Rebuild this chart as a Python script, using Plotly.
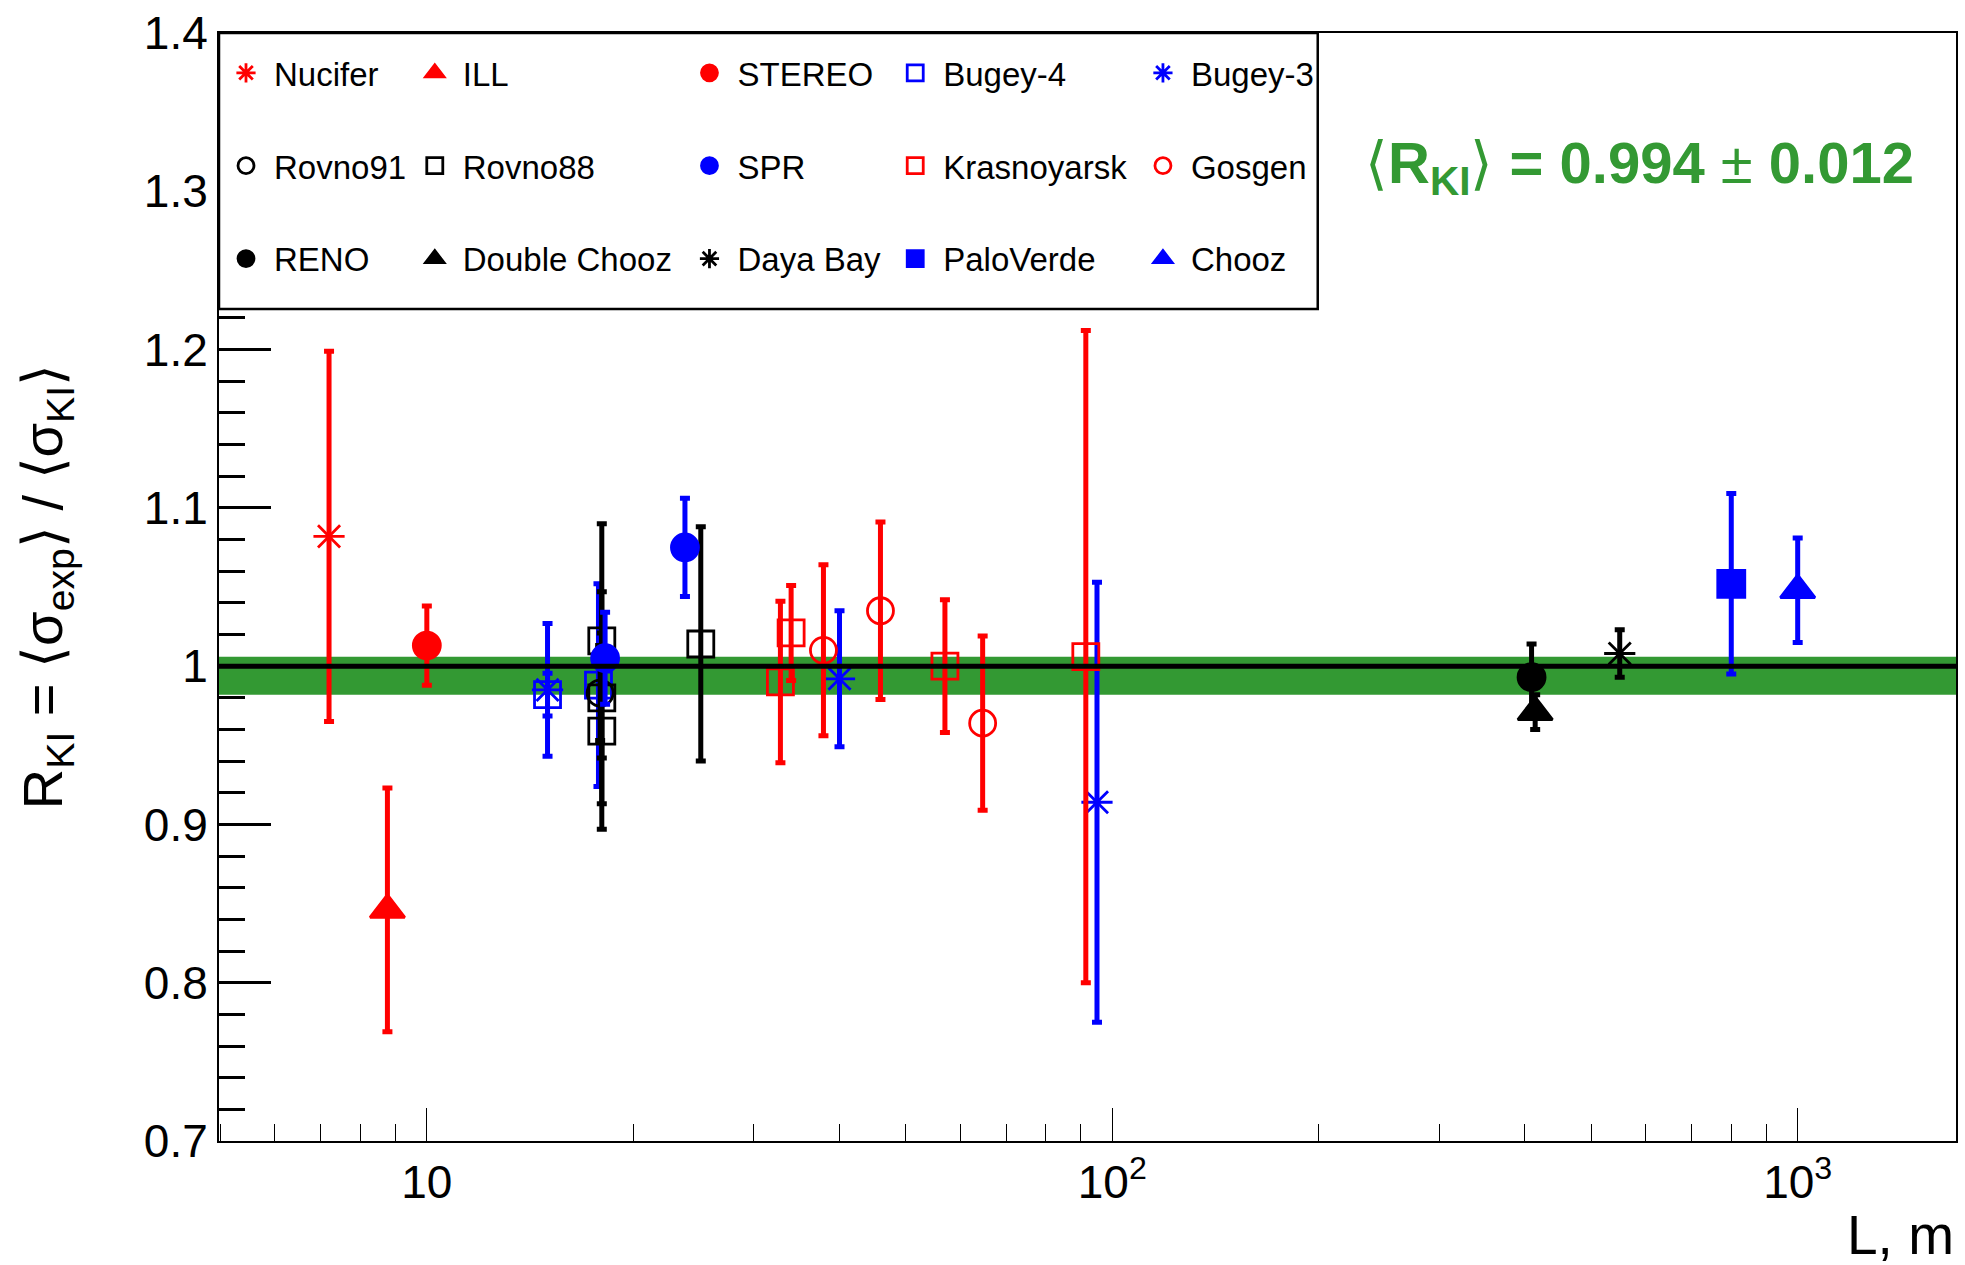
import math
import plotly.graph_objects as go

FONT = "Liberation Sans, Arial, Helvetica, sans-serif"

# ---------------- data ----------------
nucifer_L = [7.2];   nucifer_R = [1.082];  nucifer_E = [0.117]
ill_L = [8.76];      ill_R = [0.846];      ill_E = [0.077]
stereo_L = [10.0];   stereo_R = [1.013];   stereo_E = [0.025]
bugey4_L = [15.0, 17.8];  bugey4_R = [0.982, 0.988];  bugey4_E = [0.0135, 0.064]
bugey3_L = [15.0, 40.0, 95.0];  bugey3_R = [0.985, 0.992, 0.914];  bugey3_E = [0.042, 0.043, 0.139]
rovno91_L = [17.9];  rovno91_R = [0.983];  rovno91_E = [0.030]
rovno88_L = [18.0, 18.0, 18.0, 25.1];  rovno88_R = [1.016, 0.980, 0.959, 1.014];  rovno88_E = [0.074, 0.067, 0.062, 0.074]
spr_L = [18.2, 23.8];  spr_R = [1.005, 1.075];  spr_E = [0.029, 0.031]
krasn_L = [32.8, 34.0, 57.0, 91.5];  krasn_R = [0.990, 1.021, 1.000, 1.006];  krasn_E = [0.051, 0.030, 0.042, 0.206]
gosgen_L = [37.9, 45.9, 64.7];  gosgen_R = [1.010, 1.035, 0.964];  gosgen_E = [0.054, 0.056, 0.055]
reno_L = [409.0];    reno_R = [0.993];     reno_E = [0.021]
dchooz_L = [414.0];  dchooz_R = [0.971];   dchooz_E = [0.011]
dayabay_L = [550.0]; dayabay_R = [1.008];  dayabay_E = [0.015]
paloverde_L = [800.0]; paloverde_R = [1.052]; paloverde_E = [0.057]
chooz_L = [1000.0];  chooz_R = [1.048];    chooz_E = [0.033]

R_avg = 0.994
R_avg_err = 0.012
unity = 1.0

y_tick_vals = [0.7, 0.8, 0.9, 1.0, 1.1, 1.2, 1.3, 1.4]
y_tick_text = ["0.7", "0.8", "0.9", "1", "1.1", "1.2", "1.3", "1.4"]
x_tick_vals = [10, 100, 1000]
x_tick_text = ["10", "10<sup>2</sup>", "10<sup>3</sup>"]
x_range = [4.975, 1702.0]
y_range = [0.7, 1.4]

RED = "#ff0000"
BLUE = "#0000ff"
BLACK = "#000000"
GREEN = "#339933"

# name, L, R, E, color, symbol, size, legend id (rows of the legend, left to right)
series = [
    ("Nucifer", nucifer_L, nucifer_R, nucifer_E, RED, "asterisk-open", 26, "legend"),
    ("ILL", ill_L, ill_R, ill_E, RED, "triangle-up", 30, "legend2"),
    ("STEREO", stereo_L, stereo_R, stereo_E, RED, "circle", 27, "legend3"),
    ("Bugey-4", bugey4_L, bugey4_R, bugey4_E, BLUE, "square-open", 26, "legend4"),
    ("Bugey-3", bugey3_L, bugey3_R, bugey3_E, BLUE, "asterisk-open", 26, "legend5"),
    ("Rovno91", rovno91_L, rovno91_R, rovno91_E, BLACK, "circle-open", 26, "legend"),
    ("Rovno88", rovno88_L, rovno88_R, rovno88_E, BLACK, "square-open", 26, "legend2"),
    ("SPR", spr_L, spr_R, spr_E, BLUE, "circle", 27, "legend3"),
    ("Krasnoyarsk", krasn_L, krasn_R, krasn_E, RED, "square-open", 26, "legend4"),
    ("Gosgen", gosgen_L, gosgen_R, gosgen_E, RED, "circle-open", 26, "legend5"),
    ("RENO", reno_L, reno_R, reno_E, BLACK, "circle", 27, "legend"),
    ("Double Chooz", dchooz_L, dchooz_R, dchooz_E, BLACK, "triangle-up", 30, "legend2"),
    ("Daya Bay", dayabay_L, dayabay_R, dayabay_E, BLACK, "asterisk-open", 26, "legend3"),
    ("PaloVerde", paloverde_L, paloverde_R, paloverde_E, BLUE, "square", 27, "legend4"),
    ("Chooz", chooz_L, chooz_R, chooz_E, BLUE, "triangle-up", 30, "legend5"),
]

fig = go.Figure()
for name, L, R, E, color, symbol, size, leg in series:
    fig.add_trace(go.Scatter(
        x=L, y=R, mode="markers", name=name,
        legend=leg, legendgroup=name,
        marker=dict(symbol=symbol, size=size, color=color,
                    line=dict(color=color, width=2.8)),
        error_y=dict(type="data", array=E, visible=True, color=color,
                     thickness=5, width=5),
        cliponaxis=False,
    ))

W, H = 1965, 1265
ML, MR, MT, MB = 219, 7, 27.6, 124.2
plot_w = W - ML - MR
plot_h = H - MT - MB

def px_x(px):
    return (px - ML) / plot_w

def px_y(py):
    return 1 - (py - MT) / plot_h

# band and unity line
fig.add_shape(type="rect", xref="paper", x0=0, x1=1, yref="y",
              y0=R_avg - R_avg_err, y1=R_avg + R_avg_err,
              fillcolor=GREEN, line=dict(width=0), layer="below")
fig.add_shape(type="line", xref="paper", x0=0, x1=1, yref="y",
              y0=unity, y1=unity, line=dict(color=BLACK, width=5), layer="above")
# legend box
fig.add_shape(type="rect", xref="paper", yref="paper",
              x0=0, x1=px_x(1319), y0=px_y(305), y1=1,
              fillcolor="white", line=dict(color=BLACK, width=2.5), layer="above")

legend_cols_px = [246, 435, 710, 916, 1164]
legend_ids = ["legend", "legend2", "legend3", "legend4", "legend5"]
legend_common = dict(
    xanchor="left", yanchor="top", y=px_y(39.5),
    bgcolor="rgba(0,0,0,0)", borderwidth=0,
    font=dict(size=33, family=FONT, color=BLACK),
    itemwidth=46, tracegroupgap=47, orientation="v",
)
legend_layout = {}
for lid, cx in zip(legend_ids, legend_cols_px):
    legend_layout[lid] = dict(x=px_x(cx - 28), **legend_common)

fig.update_layout(
    width=W, height=H,
    margin=dict(l=ML, r=MR, t=MT, b=MB, pad=0),
    paper_bgcolor="white", plot_bgcolor="white",
    font=dict(family=FONT, color=BLACK),
    showlegend=True,
    xaxis=dict(
        type="log", range=[math.log10(x_range[0]), math.log10(x_range[1])],
        tickmode="array", tickvals=x_tick_vals, ticktext=x_tick_text,
        ticks="inside", ticklen=33, tickwidth=1.2, tickcolor=BLACK,
        showline=True, linecolor=BLACK, linewidth=2, mirror=True,
        showgrid=False, zeroline=False,
        tickfont=dict(size=46, family=FONT, color=BLACK),
        minor=dict(ticks="inside", ticklen=17, tickwidth=1.2, tickcolor=BLACK,
                   dtick="D1", showgrid=False),
    ),
    yaxis=dict(
        range=y_range, tickmode="array", tickvals=y_tick_vals, ticktext=y_tick_text,
        ticks="inside", ticklen=52, tickwidth=2.5, tickcolor=BLACK,
        showline=True, linecolor=BLACK, linewidth=2, mirror=True,
        showgrid=False, zeroline=False,
        tickfont=dict(size=46, family=FONT, color=BLACK),
        minor=dict(ticks="inside", ticklen=26, tickwidth=2.5, tickcolor=BLACK,
                   tickmode="linear", tick0=0.7, dtick=0.02, showgrid=False),
    ),
    **legend_layout,
)

fig.add_annotation(
    xref="paper", yref="paper", x=px_x(1641), y=px_y(162),
    xanchor="center", yanchor="middle", showarrow=False,
    text="⟨<b>R</b><sub><b>KI</b></sub>⟩ <b>= %.3f</b> ± <b>%.3f</b>" % (R_avg, R_avg_err),
    font=dict(size=58, family=FONT, color=GREEN),
)
fig.add_annotation(
    xref="paper", yref="paper", x=px_x(46), y=0.5,
    xanchor="center", yanchor="middle", showarrow=False, textangle=-90,
    text="R<sub>KI</sub> = ⟨σ<sub>exp</sub>⟩ / ⟨σ<sub>KI</sub>⟩",
    font=dict(size=56, family=FONT, color=BLACK),
)
fig.add_annotation(
    xref="paper", yref="paper", x=1, y=px_y(1235),
    xanchor="right", yanchor="middle", showarrow=False,
    text="L, m",
    font=dict(size=55, family=FONT, color=BLACK),
)

fig.write_html("out.html")
